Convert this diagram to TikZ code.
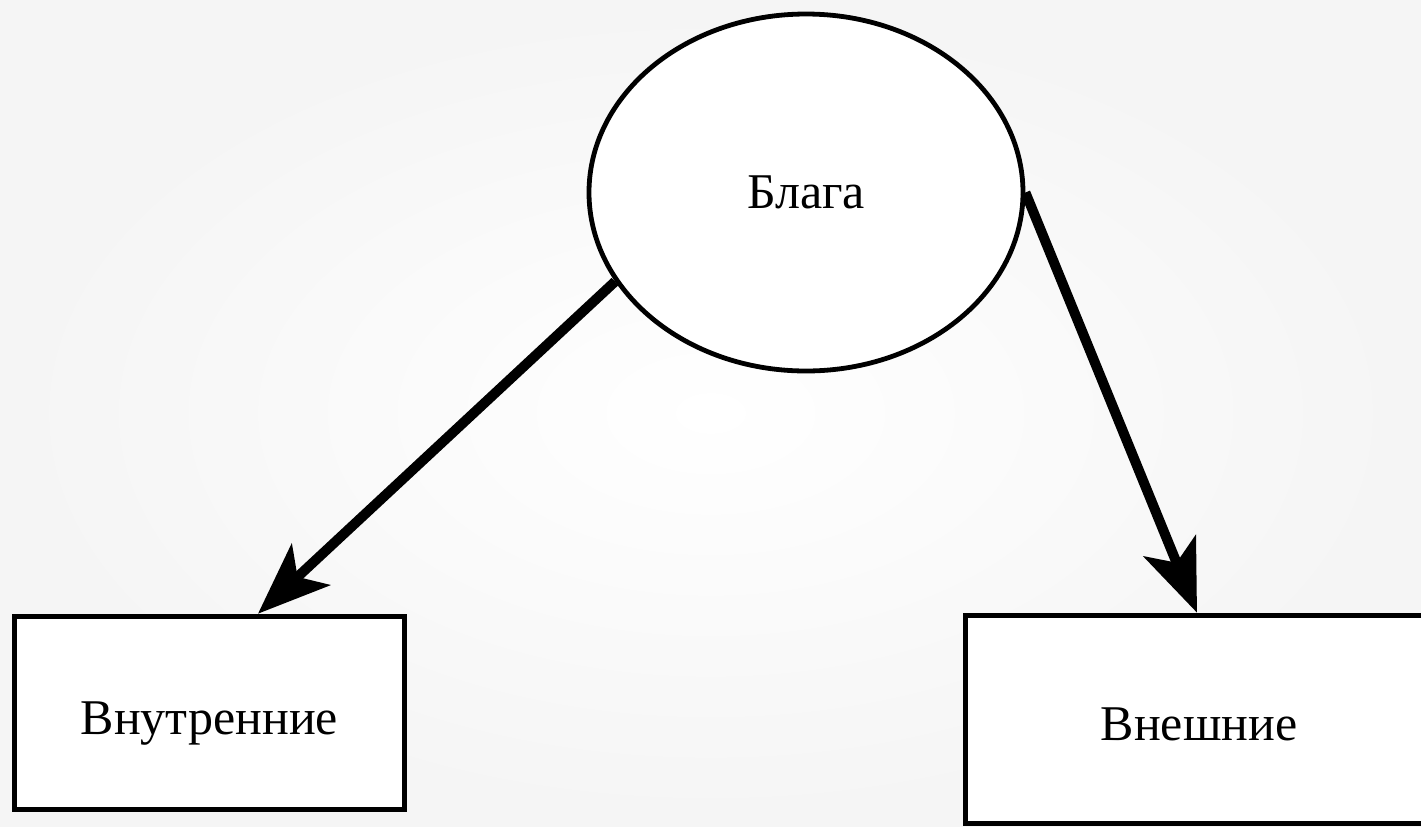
\documentclass[tikz,border=0pt]{standalone}
\usepackage{fontspec}
\setmainfont{Liberation Serif}
\usetikzlibrary{shapes.geometric,arrows.meta}
\begin{document}
\begin{tikzpicture}
[x=0.5pt,y=-0.5pt,
  ovaldecorate/.style={shape=ellipse,draw,line width=2.4pt,fill=white,inner sep=0pt,%
    minimum width=217pt,minimum height=178.5pt},%
  boxdecorate/.style={shape=rectangle,draw,line width=2.8pt,fill=white,inner sep=0pt,%
    text depth=0pt,text height=21pt},%
  linedecorate/.style={line width=5pt,-{Stealth[length=36pt,width=28pt,inset=9pt]}},%
  font=\fontsize{25}{30}\selectfont]
%% background
\useasboundingbox (0,0) rectangle (1421,826);
\shade[inner color=white,outer color=black!4] (0,0) rectangle (1421,826);
%% nodes
\node (blaga) at (806,192.5) [ovaldecorate] {Блага};
\foreach \nodename/\x/\y/\w/\h/\caption in {
  vnutr/209.5/713/195pt/96.5pt/Внутренние,
  vnesh/1199/719.5/233.5pt/104pt/Внешние}
{
  \node (\nodename) at (\x,\y) [boxdecorate,minimum width=\w,minimum height=\h] {\caption};
}
%% arrows
\draw[linedecorate] (blaga.205) -- ([xshift=24.25pt]vnutr.north);
\draw[linedecorate] (blaga.east) -- ([xshift=-1pt]vnesh.north);
\end{tikzpicture}
\end{document}
